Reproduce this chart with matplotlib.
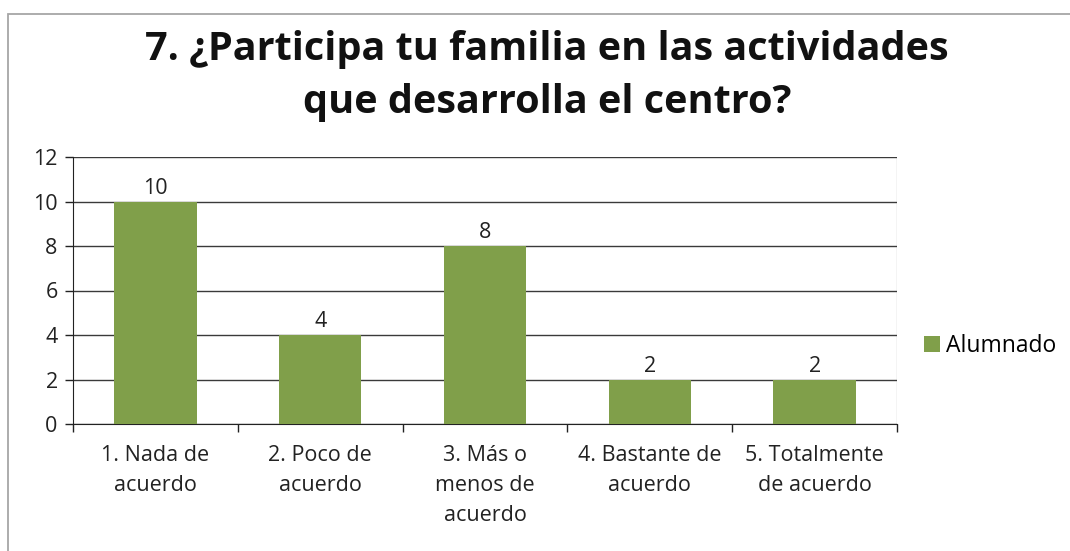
import matplotlib
matplotlib.use("Agg")
import matplotlib.pyplot as plt
from matplotlib.patches import Rectangle

categories = ["1. Nada de\nacuerdo", "2. Poco de\nacuerdo", "3. Más o\nmenos de\nacuerdo",
              "4. Bastante de\nacuerdo", "5. Totalmente\nde acuerdo"]
values = [10, 4, 8, 2, 2]
series_name = "Alumnado"
title = "7. ¿Participa tu familia en las actividades\nque desarrolla el centro?"
yticks = [0, 2, 4, 6, 8, 10, 12]

plt.rcParams['font.family'] = ['Open Sans', 'DejaVu Sans']
W, H = 1070, 551
fig = plt.figure(figsize=(W / 100, H / 100), dpi=100)
fig.patch.set_facecolor('white')

fs = 15.5
# outer chart border (top and left visible)
fig.add_artist(Rectangle((8 / W, -0.1), 1.2, (H - 14) / H + 0.1, transform=fig.transFigure,
                         fill=False, edgecolor='#a6a6a6', linewidth=1.3))

ax = fig.add_axes([73 / W, 1 - 424 / H, (897 - 73) / W, (424 - 157) / H])
x = list(range(len(categories)))
bars = ax.bar(x, values, width=0.5, color='#809F4A', zorder=3, label=series_name)
ax.set_xlim(-0.5, len(categories) - 0.5)
ax.set_ylim(0, 12)
ax.set_yticks(yticks)
ax.set_yticklabels([str(t) for t in yticks], fontsize=fs, color='#222222')
ax.yaxis.grid(True, color='#3a3a3a', linewidth=1.0, zorder=0)
ax.tick_params(axis='y', direction='out', length=6, width=1, color='#222222', pad=5)

# category labels and boundary ticks
ax.set_xticks([i - 0.5 for i in range(len(categories) + 1)])
ax.set_xticklabels([])
ax.tick_params(axis='x', direction='out', length=6, width=1, color='#222222')
for i, lab in enumerate(categories):
    ax.text(i, -0.95, lab, ha='center', va='top', fontsize=fs, color='#222222',
            linespacing=1.55)

for spine in ['top', 'right']:
    ax.spines[spine].set_visible(False)
ax.spines['left'].set_color('#222222')
ax.spines['bottom'].set_color('#222222')
ax.axvline(len(categories) - 0.5, color='#c8c8c8', linewidth=1.0, zorder=1)

for i, v in enumerate(values):
    ax.text(i, v + 0.12, str(v), ha='center', va='bottom', fontsize=fs, color='#222222')

fig.text(547 / W, 1 - 76 / H, title, ha='center', va='center', fontsize=28.5,
         fontweight='bold', color='#111111', linespacing=1.45)

leg = ax.legend(loc='center left', frameon=False,
                fontsize=16.5, handlelength=0.7, handleheight=0.7, handletextpad=0.25,
                borderaxespad=0, borderpad=0)
leg.set_bbox_to_anchor((924 / W, 1 - 346 / H), transform=fig.transFigure)

fig.savefig("out.png", dpi=100, facecolor='white')
